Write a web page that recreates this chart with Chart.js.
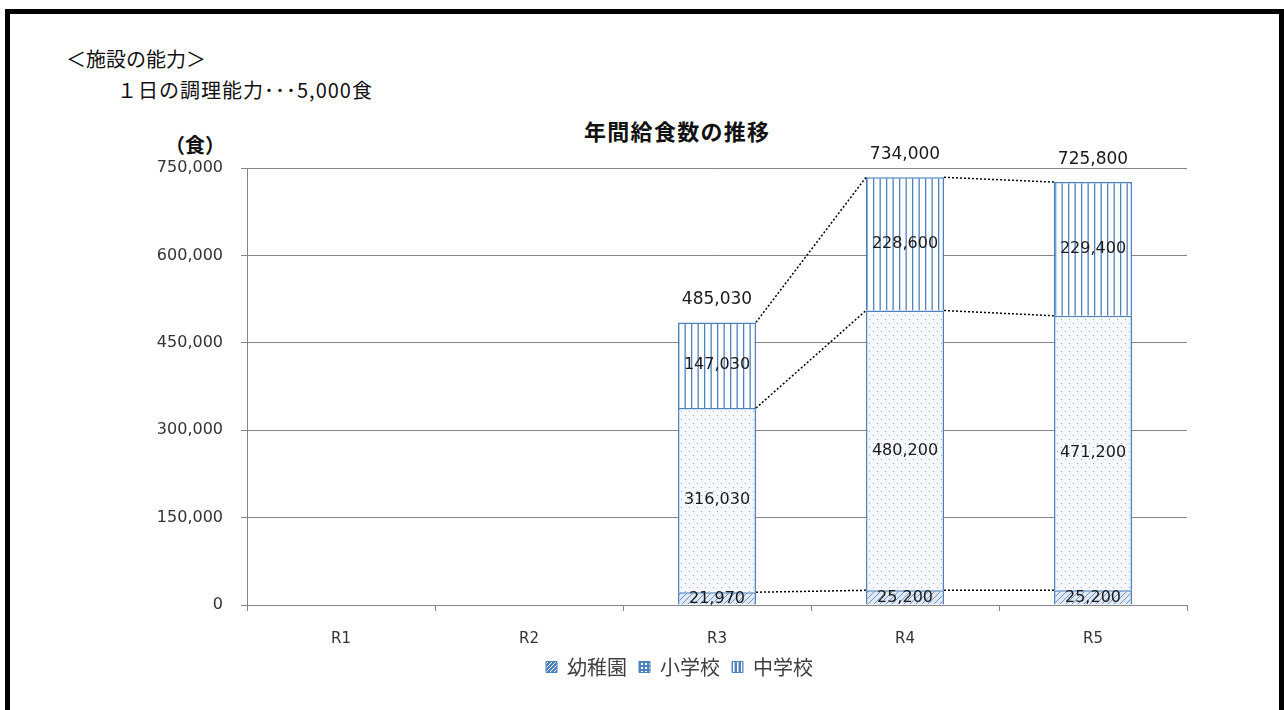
<!DOCTYPE html>
<html lang="ja">
<head>
    <meta charset="UTF-8">
    <title>年間給食数の推移</title>
    <script src="https://cdn.jsdelivr.net/npm/chart.js@4.4.1/dist/chart.umd.min.js"></script>
    <style>
        html, body {margin: 0; padding: 0; overflow: hidden; background: #fff; width: 1284px; height: 710px;}
        #frame {position: absolute; left: 5px; top: 9px; width: 1269px; height: 800px; border: 5px solid #000; box-sizing: content-box;}
        .head {position: absolute; font-family: "Noto Sans CJK JP", sans-serif; color: #111; white-space: nowrap; line-height: 1;}
        #chartDom {position: absolute; left: 12px; top: 110px; width: 1260px; height: 590px;}
    </style>
</head>
<body>
<div id="frame"></div>
<div class="head" style="left: 66px; top: 49px; font-size: 20px;">＜施設の能力＞</div>
<div class="head" style="left: 117px; top: 80px; font-size: 20px; letter-spacing: 1px;">１日の調理能力･･･5,000食</div>
<div class="head" style="left: 584px; top: 119px; font-size: 22px; font-weight: 700; letter-spacing: 1.3px;">年間給食数の推移</div>
<div class="head" style="left: 165px; top: 135px; font-size: 20px; font-weight: 700;">（食）</div>
<div id="chartDom"><canvas id="kyushoku"></canvas></div>

<script>
    const years = ['R1', 'R2', 'R3', 'R4', 'R5'];
    const seriesNames = ['幼稚園', '小学校', '中学校'];
    const youchien = [null, null, 21970, 25200, 25200];
    const shougakkou = [null, null, 316030, 480200, 471200];
    const chuugakkou = [null, null, 147030, 228600, 229400];
    const yTicks = [0, 150000, 300000, 450000, 600000, 750000];

    const blue = '#4f81bd';
    const numFont = '"DejaVu Sans", sans-serif';

    // 塗りパターン（斜線・点・縦線）
    function makePattern(kind) {
        const c = document.createElement('canvas');
        const g = c.getContext('2d');
        if (kind === 'diag') {
            c.width = 6; c.height = 6;
            g.fillStyle = '#dfe8f3'; g.fillRect(0, 0, 6, 6);
            g.strokeStyle = '#6f93c6'; g.lineWidth = 1;
            g.beginPath();
            g.moveTo(0, 6); g.lineTo(6, 0);
            g.moveTo(-1, 1); g.lineTo(1, -1);
            g.moveTo(5, 7); g.lineTo(7, 5);
            g.stroke();
        } else if (kind === 'dots') {
            c.width = 8; c.height = 8;
            g.fillStyle = '#f6f8fc'; g.fillRect(0, 0, 8, 8);
            g.fillStyle = '#8fa9d2';
            g.fillRect(1, 1, 1, 1);
            g.fillRect(5, 5, 1, 1);
        } else {
            c.width = 13; c.height = 4;
            g.fillStyle = '#ffffff'; g.fillRect(0, 0, 13, 4);
            g.fillStyle = blue;
            g.fillRect(3, 0, 1.3, 4);
            g.fillRect(9.5, 0, 1.3, 4);
        }
        return g.createPattern(c, 'repeat');
    }

    // 凡例の小さな四角（濃い青地に白の模様）
    function makeLegendPattern(kind) {
        const c = document.createElement('canvas');
        const g = c.getContext('2d');
        c.width = 4; c.height = 4;
        g.fillStyle = blue; g.fillRect(0, 0, 4, 4);
        g.fillStyle = '#ffffff';
        if (kind === 'diag') {
            g.fillRect(3, 0, 1, 1); g.fillRect(2, 1, 1, 1); g.fillRect(1, 2, 1, 1); g.fillRect(0, 3, 1, 1);
        } else if (kind === 'dots') {
            g.fillRect(1, 1, 2, 2);
        } else {
            g.fillRect(1, 0, 1.5, 4);
        }
        return g.createPattern(c, 'repeat');
    }

    const patterns = [makePattern('diag'), makePattern('dots'), makePattern('vert')];
    const legendPatterns = [makeLegendPattern('diag'), makeLegendPattern('dots'), makeLegendPattern('vert')];
    const seriesData = [youchien, shougakkou, chuugakkou];

    // 系列線（点線）とデータラベル
    const labelPlugin = {
        id: 'labelPlugin',
        afterLayout(chart) {
            // 凡例を元の図の位置へ寄せる
            chart.legend.left += 80;
            chart.legend.right += 80;
        },
        afterDatasetsDraw(chart) {
            const ctx = chart.ctx;
            ctx.save();
            // 系列線
            ctx.strokeStyle = '#000';
            ctx.lineWidth = 1.5;
            ctx.setLineDash([2, 2]);
            chart.data.datasets.forEach((ds, d) => {
                const bars = chart.getDatasetMeta(d).data;
                for (let i = 0; i < bars.length - 1; i++) {
                    if (ds.data[i] == null || ds.data[i + 1] == null) continue;
                    const a = bars[i], b = bars[i + 1];
                    ctx.beginPath();
                    ctx.moveTo(a.x + a.width / 2, a.y);
                    ctx.lineTo(b.x - b.width / 2, b.y);
                    ctx.stroke();
                }
            });
            ctx.setLineDash([]);

            // 各区分の数値
            ctx.fillStyle = '#1a1a1a';
            ctx.textAlign = 'center';
            ctx.textBaseline = 'middle';
            ctx.font = '16px ' + numFont;
            chart.data.datasets.forEach((ds, d) => {
                chart.getDatasetMeta(d).data.forEach((bar, i) => {
                    if (ds.data[i] == null) return;
                    ctx.fillText(ds.data[i].toLocaleString('en-US'), bar.x, (bar.y + bar.base) / 2);
                });
            });

            // 合計
            ctx.font = '17px ' + numFont;
            ctx.textBaseline = 'bottom';
            const top = chart.getDatasetMeta(chart.data.datasets.length - 1).data;
            years.forEach((y, i) => {
                let sum = 0, has = false;
                seriesData.forEach(arr => { if (arr[i] != null) { sum += arr[i]; has = true; } });
                if (!has) return;
                ctx.fillText(sum.toLocaleString('en-US'), top[i].x, top[i].y - 14);
            });
            ctx.restore();
        }
    };

    new Chart(document.getElementById('kyushoku'), {
        type: 'bar',
        data: {
            labels: years,
            datasets: seriesNames.map((name, k) => ({
                label: name,
                data: seriesData[k],
                backgroundColor: patterns[k],
                borderColor: blue,
                borderWidth: 1.5,
                categoryPercentage: 1,
                barPercentage: 0.415
            }))
        },
        options: {
            responsive: true,
            maintainAspectRatio: false,
            animation: false,
            layout: {padding: {top: 58, right: 85, bottom: 13, left: 0}},
            plugins: {
                title: {display: false},
                tooltip: {enabled: false},
                legend: {
                    position: 'bottom',
                    labels: {
                        boxWidth: 11,
                        boxHeight: 11,
                        padding: 12,
                        color: '#404040',
                        font: {family: '"Noto Sans CJK JP", sans-serif', size: 20},
                        generateLabels(chart) {
                            return chart.data.datasets.map((ds, k) => ({
                                text: ds.label,
                                fillStyle: legendPatterns[k],
                                strokeStyle: blue,
                                lineWidth: 1,
                                fontColor: '#404040',
                                datasetIndex: k,
                                hidden: false
                            }));
                        }
                    }
                }
            },
            scales: {
                x: {
                    stacked: true,
                    grid: {offset: true, drawOnChartArea: false, drawTicks: true, tickLength: 6, color: '#868686'},
                    border: {color: '#868686', width: 1},
                    ticks: {padding: 19, color: '#333', font: {family: numFont, size: 15}},
                    afterFit(scale) { scale.height = 40; }
                },
                y: {
                    stacked: true,
                    min: 0,
                    max: 750000,
                    afterBuildTicks(scale) { scale.ticks = yTicks.map(v => ({value: v})); },
                    grid: {color: '#868686', tickLength: 6},
                    border: {color: '#868686', width: 1},
                    ticks: {
                        padding: 18,
                        color: '#333',
                        font: {family: numFont, size: 16},
                        callback: v => v.toLocaleString('en-US')
                    },
                    afterFit(scale) { scale.width = 235; }
                }
            }
        },
        plugins: [labelPlugin]
    });
</script>
</body>
</html>
